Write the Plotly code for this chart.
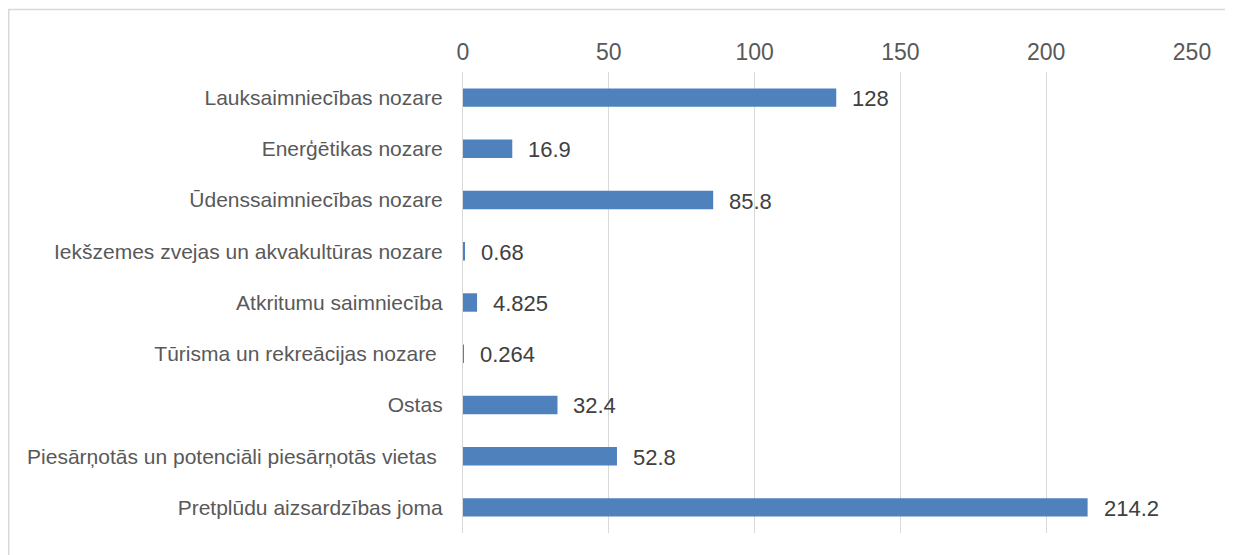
import plotly.graph_objects as go

categories = [
    "Lauksaimniecības nozare",
    "Enerģētikas nozare",
    "Ūdenssaimniecības nozare",
    "Iekšzemes zvejas un akvakultūras nozare",
    "Atkritumu saimniecība",
    "Tūrisma un rekreācijas nozare\u00a0",
    "Ostas",
    "Piesārņotās un potenciāli piesārņotās vietas\u00a0",
    "Pretplūdu aizsardzības joma",
]
values = [128, 16.9, 85.8, 0.68, 4.825, 0.264, 32.4, 52.8, 214.2]
tick_vals = [0, 50, 100, 150, 200, 250]

W, H = 1225, 547
ml, mt = 455, 64
mr = W - 1184
mb = H - 525
pw, ph = W - ml - mr, H - mt - mb

fig = go.Figure()
fig.add_trace(go.Bar(
    x=values, y=categories, orientation="h",
    marker=dict(color="#4F81BD", line=dict(width=0)),
    width=0.36,
    hoverinfo="skip",
))

for c, v in zip(categories, values):
    fig.add_annotation(
        x=v, y=c, text=f"{v:g}", showarrow=False,
        xanchor="left", yanchor="middle", xshift=14, yshift=-1,
        font=dict(family="Liberation Sans, Arial", size=22, color="#404040"),
    )

def px_x(p):
    return (p - ml) / pw

def px_y(p):
    return 1 - (p - mt) / ph

fig.add_shape(type="rect", xref="paper", yref="paper",
              x0=px_x(0.75), x1=px_x(1240), y0=px_y(560), y1=px_y(1.5),
              line=dict(color="#D9D9D9", width=1.5), fillcolor="rgba(0,0,0,0)", layer="below")

fig.update_layout(
    width=W, height=H,
    margin=dict(l=ml, r=mr, t=mt, b=mb, autoexpand=False),
    paper_bgcolor="white", plot_bgcolor="white",
    showlegend=False,
    xaxis=dict(
        side="top", range=[0, 250], tickvals=tick_vals,
        showgrid=True, gridcolor="#D9D9D9", gridwidth=1.3,
        zeroline=False, showline=False, ticks="",
        ticklabelstandoff=6,
        tickfont=dict(family="Liberation Sans, Arial", size=23, color="#595959"),
        fixedrange=True,
    ),
    yaxis=dict(
        autorange="reversed", showgrid=False, zeroline=False,
        showline=True, linecolor="#D9D9D9", linewidth=1.3, ticks="",
        ticklabelstandoff=15,
        tickfont=dict(family="Liberation Sans, Arial", size=21, color="#595959"),
        fixedrange=True,
    ),
)

fig.write_html("out.html")
